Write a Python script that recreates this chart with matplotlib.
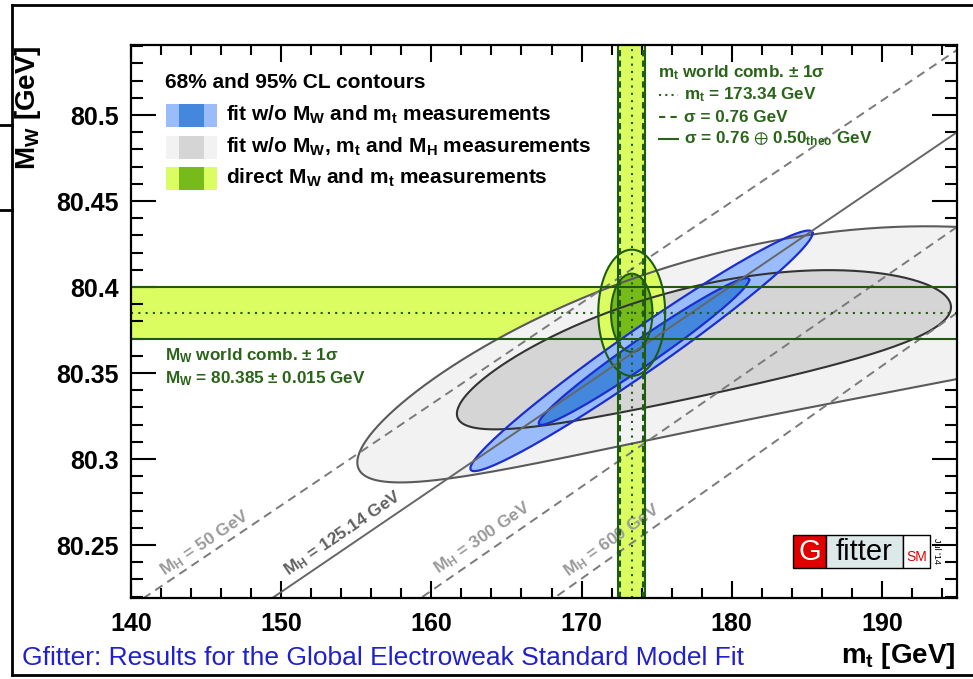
import numpy as np
import matplotlib.pyplot as plt
from matplotlib.patches import Rectangle
from matplotlib.lines import Line2D

plt.rcParams['font.family'] = ['Liberation Sans', 'DejaVu Sans']
plt.rcParams['mathtext.default'] = 'regular'

# --- data -------------------------------------------------------------
mt_range = [140, 195]
mw_range = [80.2192, 80.5407]

# direct measurements (world combinations)
mt_meas = 173.34
mt_err = 0.76
mt_err_tot = 0.91   # 0.76 (+) 0.50 theo
mw_meas = 80.385
mw_err = 0.015

# CL scale factors for 2D contours (68%, 95%)
cl_scale = [np.sqrt(2.30), np.sqrt(5.99)]

# fit w/o MW, mt and MH  [95%, 68%]
grey_cx = [182.0, 178.15]
grey_cy = [80.375, 80.3693]
grey_ax = [26.93, 16.45]
grey_ay = [0.069, 0.0448]
grey_rho = [0.681, 0.692]
grey_bend = [-0.030, -0.012]

# fit w/o MW and mt  [95%, 68%]
blue_cx = [173.99, 174.155]
blue_cy = [80.3629, 80.3625]
blue_ax = [11.39, 7.005]
blue_ay = [0.06993, 0.04266]
blue_rho = [0.9767, 0.9764]

# SM lines for fixed MH: MW at mt=140 and mt=195
mh_values = ['50', '125.14', '300', '600']
mh_mw_140 = [80.2142, 80.1633, 80.1026, 80.045]
mh_mw_195 = [80.5378, 80.490, 80.4349, 80.385]
mh_label_mt = [144.93, 154.13, 163.4, 172.07]
mh_label_mw = [80.2512, 80.2570, 80.2541, 80.2529]

# --- colours ----------------------------------------------------------
c_lgreen = '#dbfd62'
c_dgreen = '#77bb1b'
c_green_line = '#1f5c10'
c_green_text = '#2a6418'
c_lblue = '#9bbcfa'
c_dblue = '#4488dd'
c_blue_line = '#1c2ed0'
c_lgrey = '#f2f2f2'
c_dgrey = '#d5d5d5'

W, H = 973, 679


def fx(px):
    return px / W


def fy(py):
    return 1 - py / H


def contour(cx, cy, a, b, rho, bend=0.0, n=500):
    t = np.linspace(0, 2 * np.pi, n)
    c, s = np.cos(t), np.sin(t)
    x = cx + a * c
    y = cy + b * (rho * c + np.sqrt(1 - rho ** 2) * s) + bend * c ** 2
    return x, y


fig = plt.figure(figsize=(W / 100, H / 100), dpi=100)
ax = fig.add_axes([fx(131), fy(598), (957 - 131) / W, (598 - 45) / H])
ax.set_xlim(mt_range)
ax.set_ylim(mw_range)

# bands
ax.axhspan(mw_meas - mw_err, mw_meas + mw_err, color=c_lgreen, lw=0, zorder=1)
ax.axvspan(mt_meas - mt_err_tot, mt_meas + mt_err_tot, color=c_lgreen, lw=0, zorder=1)

# grey contours
for i, (fc, ec) in enumerate([(c_lgrey, '#5a5a5a'), (c_dgrey, '#333333')]):
    x, y = contour(grey_cx[i], grey_cy[i], grey_ax[i], grey_ay[i], grey_rho[i], grey_bend[i])
    ax.fill(x, y, fc=fc, ec='none', zorder=2 + i)
    ax.plot(x, y, color=ec, lw=1.5, zorder=7)

# direct measurement contours
for i, fc in zip([1, 0], [c_lgreen, c_dgreen]):
    x, y = contour(mt_meas, mw_meas, cl_scale[i] * mt_err_tot, cl_scale[i] * mw_err, 0.0)
    ax.fill(x, y, fc=fc, ec='none', zorder=4 + (i == 0) * 0.5)
    ax.plot(x, y, color=c_green_line, lw=1.5, zorder=9)

# blue contours
for i, fc in enumerate([c_lblue, c_dblue]):
    x, y = contour(blue_cx[i], blue_cy[i], blue_ax[i], blue_ay[i], blue_rho[i])
    ax.fill(x, y, fc=fc, ec='none', zorder=5 + 0.5 * i)
    ax.plot(x, y, color=c_blue_line, lw=1.6, zorder=8)

# MH lines
for i, lab in enumerate(mh_values):
    solid = lab == '125.14'
    col = '#666666' if solid else '#7a7a7a'
    ax.plot(mt_range, [mh_mw_140[i], mh_mw_195[i]], color=col, lw=1.4,
            ls='-' if solid else (0, (4.5, 3)), zorder=10)
    slope = (mh_mw_195[i] - mh_mw_140[i]) / (mt_range[1] - mt_range[0])
    ang = np.degrees(np.arctan(slope))
    ax.text(mh_label_mt[i], mh_label_mw[i], 'M$_{H}$ = %s GeV' % lab,
            color='#606060' if solid else '#9a9a9a', fontsize=12.5, fontweight='bold',
            rotation=ang, transform_rotates_text=True, rotation_mode='anchor',
            ha='center', va='center', zorder=11)

# band lines
for v in [mw_meas - mw_err, mw_meas + mw_err]:
    ax.axhline(v, color=c_green_line, lw=1.5, zorder=12)
ax.axhline(mw_meas, color=c_green_line, lw=1.5, ls=(0, (1, 2.5)), zorder=12)
for v in [mt_meas - mt_err_tot, mt_meas + mt_err_tot]:
    ax.axvline(v, color=c_green_line, lw=1.5, zorder=12)
for v in [mt_meas - mt_err, mt_meas + mt_err]:
    ax.axvline(v, color=c_green_line, lw=1.5, ls=(0, (3, 2)), zorder=12)
ax.axvline(mt_meas, color=c_green_line, lw=1.5, ls=(0, (1, 2.5)), zorder=12)

# axes styling
ax.set_xticks(np.arange(140, 196, 10))
ax.set_xticks(np.arange(140, 196, 2), minor=True)
ax.set_yticks([80.25, 80.3, 80.35, 80.4, 80.45, 80.5])
ax.set_yticklabels(['80.25', '80.3', '80.35', '80.4', '80.45', '80.5'])
ax.set_yticks(np.arange(80.22, 80.541, 0.01), minor=True)
ax.tick_params(which='both', direction='in', top=True, right=True, width=1.5, labelsize=18)
ax.tick_params(axis='y', which='major', length=18, pad=9)
ax.tick_params(axis='y', which='minor', length=8.5)
ax.tick_params(axis='x', which='major', length=12, pad=10)
ax.tick_params(axis='x', which='minor', length=7)
for lab in ax.get_xticklabels() + ax.get_yticklabels():
    lab.set_fontweight('bold')
for sp in ax.spines.values():
    sp.set_linewidth(1.6)
    sp.set_zorder(20)

fig.text(fx(28), fy(45), 'M$_{W}$ [GeV]', rotation=90, ha='center', va='top',
         fontsize=20, fontweight='bold')
fig.text(fx(955), fy(656), 'm$_{t}$ [GeV]', ha='right', va='center',
         fontsize=20, fontweight='bold')
fig.text(fx(22), fy(658), 'Gfitter: Results for the Global Electroweak Standard Model Fit',
         ha='left', va='center', fontsize=19, color='#2020cc')

# legend
fig.text(fx(165), fy(83), '68% and 95% CL contours', ha='left', va='center',
         fontsize=15, fontweight='bold')
leg_rows = [
    ('fit w/o M$_{W}$ and m$_{t}$ measurements', c_lblue, c_dblue),
    ('fit w/o M$_{W}$, m$_{t}$ and M$_{H}$ measurements', c_lgrey, c_dgrey),
    ('direct M$_{W}$ and m$_{t}$ measurements', c_lgreen, c_dgreen),
]
for (txt, lc, dc), yc in zip(leg_rows, [115, 147, 178]):
    for x0, x1, c in [(166, 179, lc), (179, 204, dc), (204, 217, lc)]:
        fig.add_artist(Rectangle((fx(x0), fy(yc + 11.5)), (x1 - x0) / W, 23 / H,
                                 transform=fig.transFigure, fc=c, ec='none'))
    fig.text(fx(226), fy(yc), txt, ha='left', va='center', fontsize=15, fontweight='bold')

# band annotations
fig.text(fx(658), fy(73), 'm$_{t}$ world comb. $\\pm$ 1σ', ha='left', va='center',
         fontsize=12.3, fontweight='bold', color=c_green_text)
for yc, ls, txt in [(95, (0, (1, 2)), 'm$_{t}$ = 173.34 GeV'),
                    (117, (0, (3, 2.5)), 'σ = 0.76 GeV'),
                    (139, '-', 'σ = 0.76 $\\oplus$ 0.50$_{theo}$ GeV')]:
    fig.add_artist(Line2D([fx(659), fx(678)], [fy(yc), fy(yc)], color=c_green_text,
                          lw=1.5, ls=ls, transform=fig.transFigure))
    fig.text(fx(684), fy(yc), txt, ha='left', va='center', fontsize=12.3,
             fontweight='bold', color=c_green_text)
fig.text(fx(165), fy(356), 'M$_{W}$ world comb. ± 1σ', ha='left', va='center',
         fontsize=12.3, fontweight='bold', color=c_green_text)
fig.text(fx(165), fy(379), 'M$_{W}$ = 80.385 ± 0.015 GeV', ha='left', va='center',
         fontsize=12.3, fontweight='bold', color=c_green_text)

# Gfitter logo
for x0, x1, c in [(793, 826, '#e00000'), (826, 903, '#dde9e9'), (903, 930, 'white')]:
    fig.add_artist(Rectangle((fx(x0), fy(568)), (x1 - x0) / W, 33 / H,
                             transform=fig.transFigure, fc=c, ec='black', lw=1.0))
fig.text(fx(809.5), fy(552), 'G', ha='center', va='center', fontsize=21, color='white')
fig.text(fx(864.5), fy(552), 'fitter', ha='center', va='center', fontsize=21, color='black')
fig.text(fx(916.5), fy(557), 'SM', ha='center', va='center', fontsize=10, color='#e00000')
fig.text(fx(937), fy(551), "Jul '14", ha='center', va='center', fontsize=6.5, rotation=270)

# outer frame
for xs, ys in [([12, 12], [5, 675]), ([12, 973], [5, 5]), ([12, 973], [675, 675]),
               ([0, 12], [125, 125]), ([0, 12], [210, 210])]:
    fig.add_artist(Line2D([fx(v) for v in xs], [fy(v) for v in ys], color='black',
                          lw=2.0, transform=fig.transFigure))

fig.savefig('out.png', dpi=100)
